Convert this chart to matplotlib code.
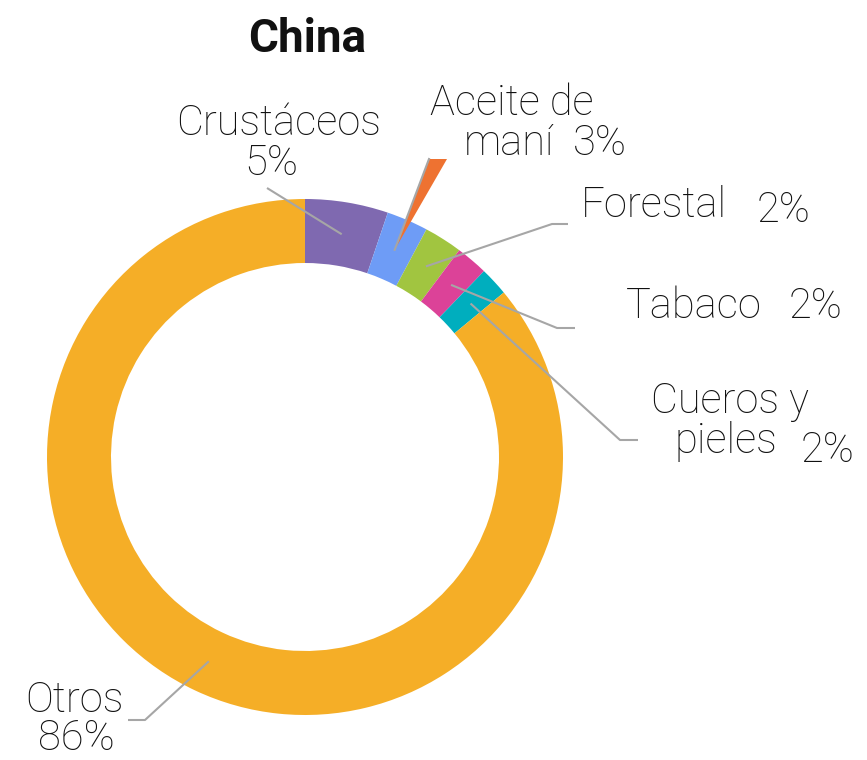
import numpy as np
import matplotlib.pyplot as plt
from matplotlib.patches import Polygon

# canvas size in pixels (dpi 100)
W, H = 867, 760

# data (share of exports, %)
categories = ["Crustáceos", "Aceite de maní", "Forestal", "Tabaco", "Cueros y pieles", "Otros"]
shares = [5.2, 2.6, 2.4, 2.0, 1.8, 86.0]
pct_labels = ["5%", "3%", "2%", "2%", "2%", "86%"]
colors = ["#7F69B0", "#6E9CF6", "#A1C540", "#DC4298", "#00AEBE", "#F5AE27"]

plt.rcParams["font.family"] = ["Roboto", "DejaVu Sans"]

LINE = "#A6A6A6"
LABEL_SIZE = 30


def py(y):
    # pixel row (from top) -> data y
    return H - y


fig = plt.figure(figsize=(W / 100, H / 100), dpi=100)
ax = fig.add_axes([0, 0, 1, 1])

cx, cy, R = 305, py(457), 258
wedges, _ = ax.pie(
    shares, colors=colors, startangle=90, counterclock=False,
    center=(cx, cy), radius=R, frame=True,
    wedgeprops=dict(width=64, linewidth=0),
)
ax.set_xlim(0, W)
ax.set_ylim(0, H)
ax.set_aspect("equal")
ax.axis("off")


def anchor(w, frac=0.875):
    t = np.deg2rad((w.theta1 + w.theta2) / 2)
    return cx + frac * R * np.cos(t), cy + frac * R * np.sin(t)


# leader lines: wedge anchor -> elbow -> end (pixel coords of elbows)
leaders = {
    "Crustáceos": [(267, 188)],
    "Forestal": [(552, 224), (568, 224)],
    "Tabaco": [(557, 328), (575, 328)],
    "Cueros y pieles": [(620, 440), (638, 440)],
    "Otros": [(145, 720), (128, 720)],
}
for w, name in zip(wedges, categories):
    if name in leaders:
        ax0, ay0 = anchor(w)
        xs = [ax0] + [p[0] for p in leaders[name]]
        ys = [ay0] + [py(p[1]) for p in leaders[name]]
        ax.plot(xs, ys, color=LINE, lw=1.5, solid_capstyle="butt")

# callout pointer for "Aceite de maní"
tx, ty = anchor(wedges[1])
tri = Polygon([(tx, ty), (429, py(159)), (447, py(159))], closed=True,
              facecolor="#EE7231", edgecolor="none")
ax.add_patch(tri)
ax.plot([tx, 429], [ty, py(159)], color=LINE, lw=1.5)

# labels
def lab(s, x, y, ha="left", **kw):
    ax.text(x, py(y), s, ha=ha, va="baseline", fontsize=LABEL_SIZE,
            fontweight="light", color="#111111", **kw)


ax.text(307, py(52), "China", ha="center", va="baseline", fontsize=33,
        fontweight="bold", color="#111111")

lab("Crustáceos", 279, 135, ha="center")
lab(pct_labels[0], 271, 175, ha="center")

lab("Aceite de", 512, 115, ha="center")
lab("maní", 509, 155, ha="center")
lab(pct_labels[1], 573, 155)

lab("Forestal", 581, 217)
lab(pct_labels[2], 757, 222)

lab("Tabaco", 626, 318)
lab(pct_labels[3], 789, 318)

lab("Cueros y", 651, 413)
lab("pieles", 674, 453)
lab(pct_labels[4], 801, 462)

lab("Otros", 25, 712)
lab(pct_labels[5], 38, 750)

fig.savefig("out.png", dpi=100, facecolor="white")
